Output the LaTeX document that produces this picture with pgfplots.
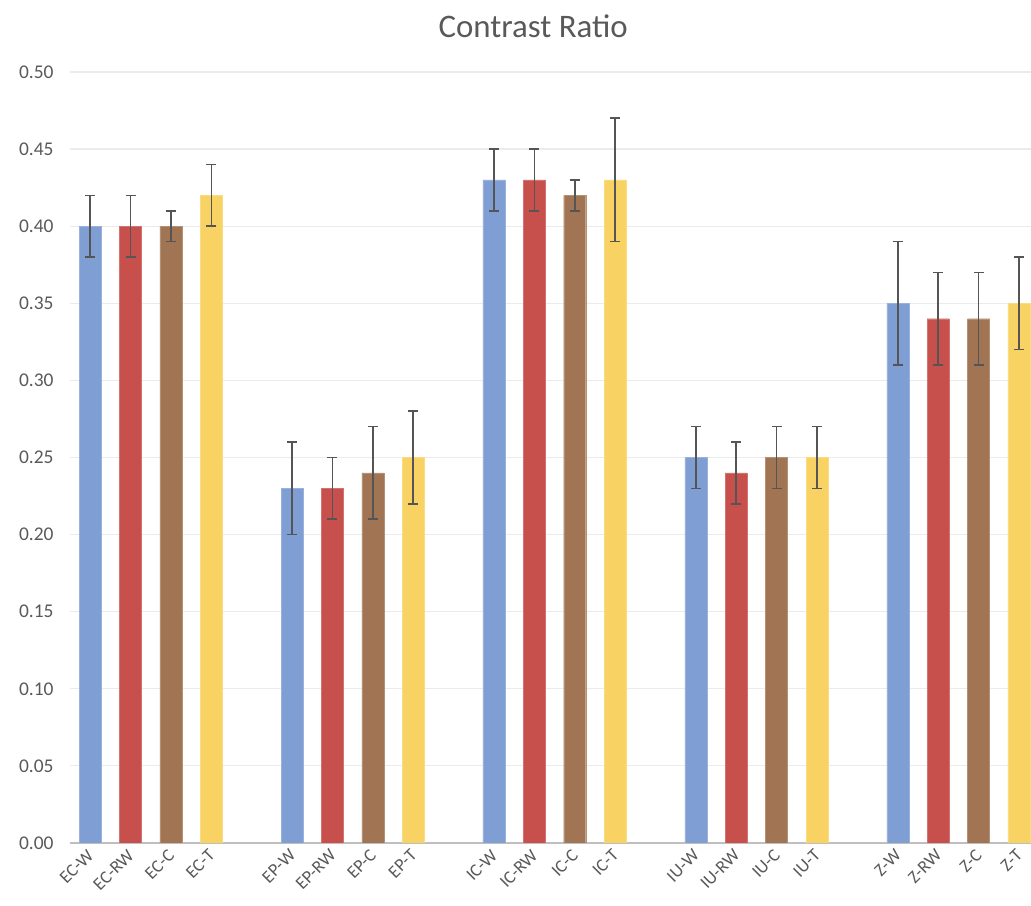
\documentclass[border=0pt]{standalone}
\usepackage{pgfplots}
\pgfplotsset{compat=1.18}
\usepackage{graphicx}
\usepackage{fontspec}
\setmainfont{Carlito}
\definecolor{cblue}{RGB}{127,158,211}
\definecolor{cred}{RGB}{199,80,77}
\definecolor{cbrown}{RGB}{161,116,83}
\definecolor{cyellow}{RGB}{248,210,98}
\definecolor{txtgray}{RGB}{89,89,89}
\definecolor{gridgray}{RGB}{235,235,235}
\definecolor{axgray}{RGB}{191,191,191}
\definecolor{errgray}{RGB}{85,85,85}
\newcommand\rl[1]{\rotatebox{45}{#1}}
\begin{document}
\begin{tikzpicture}
\useasboundingbox (-70bp,-63bp) rectangle (961bp,843bp);
\begin{axis}[
  at={(0,0)}, anchor=south west,
  scale only axis, width=961bp, height=771bp,
  ybar, bar shift=0pt, bar width=0.545,
  xmin=-0.5, xmax=23.3, ymin=0, ymax=0.5,
  ytick distance=0.05,
  xtick={0,1,2,3,5,6,7,8,10,11,12,13,15,16,17,18,20,21,22,23},
  xticklabels={\rl{EC-W},\rl{EC-RW},\rl{EC-C},\rl{EC-T},\rl{EP-W},\rl{EP-RW},\rl{EP-C},\rl{EP-T},\rl{IC-W},\rl{IC-RW},\rl{IC-C},\rl{IC-T},\rl{IU-W},\rl{IU-RW},\rl{IU-C},\rl{IU-T},\rl{Z-W},\rl{Z-RW},\rl{Z-C},\rl{Z-T}},
  every x tick label/.append style={anchor=north east, font=\fontsize{18}{21}\selectfont, text=txtgray, xshift=8bp, yshift=-2bp},
  every y tick label/.append style={font=\fontsize{19.5}{23}\selectfont, text=txtgray, xshift=-13bp},
  yticklabel style={/pgf/number format/fixed, /pgf/number format/fixed zerofill, /pgf/number format/precision=2, /pgf/number format/assume math mode=true},
  major tick length=0pt, tick style={draw=none},
  axis line style={draw=none},
  ymajorgrids, grid style={draw=gridgray, line width=1.2bp},
  extra y ticks={0}, extra y tick labels={},
  extra y tick style={grid style={draw=axgray, line width=2bp}},
  title={Contrast Ratio},
  title style={at={(0.482,1)}, anchor=base, yshift=29bp, font=\fontsize{33}{38}\selectfont, text=txtgray},
  error bars/y dir=both, error bars/y explicit,
  error bars/error bar style={draw=errgray, line width=1.6bp},
  error bars/error mark options={draw=errgray, line width=1.6bp, mark size=5bp, rotate=90},
]
\addplot[fill=cblue, draw=cblue!80!white] coordinates {
 (0,0.40) +- (0,0.02)
 (5,0.23) +- (0,0.03)
 (10,0.43) +- (0,0.02)
 (15,0.25) +- (0,0.02)
 (20,0.35) +- (0,0.04)
};
\addplot[fill=cred, draw=cred!80!white] coordinates {
 (1,0.40) +- (0,0.02)
 (6,0.23) +- (0,0.02)
 (11,0.43) +- (0,0.02)
 (16,0.24) +- (0,0.02)
 (21,0.34) +- (0,0.03)
};
\addplot[fill=cbrown, draw=cbrown!80!white] coordinates {
 (2,0.40) +- (0,0.01)
 (7,0.24) +- (0,0.03)
 (12,0.42) +- (0,0.01)
 (17,0.25) +- (0,0.02)
 (22,0.34) +- (0,0.03)
};
\addplot[fill=cyellow, draw=cyellow!80!white] coordinates {
 (3,0.42) +- (0,0.02)
 (8,0.25) +- (0,0.03)
 (13,0.43) +- (0,0.04)
 (18,0.25) +- (0,0.02)
 (23,0.35) +- (0,0.03)
};
\end{axis}
\end{tikzpicture}
\end{document}
